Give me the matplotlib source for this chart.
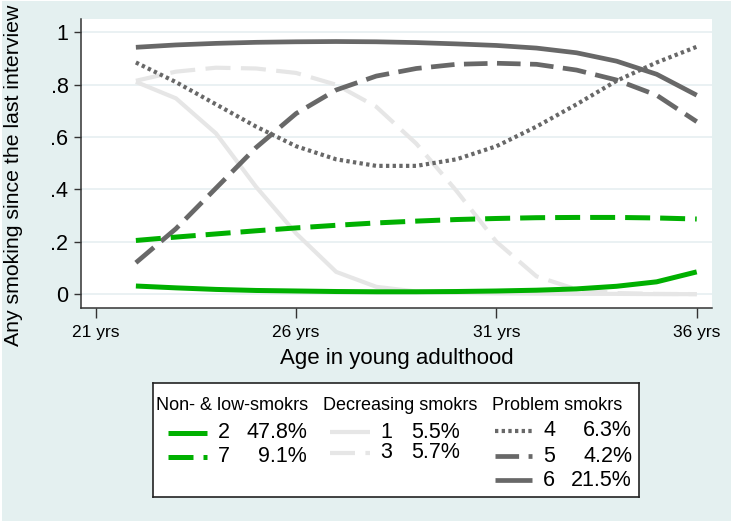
import numpy as np
import matplotlib.pyplot as plt
from matplotlib.patches import Rectangle

plt.rcParams['font.family'] = ['Liberation Sans', 'DejaVu Sans']

# 年龄（岁）
ages = [22, 23, 24, 25, 26, 27, 28, 29, 30, 31, 32, 33, 34, 35, 36]

# 各轨迹组的吸烟概率
grp2 = [0.031, 0.024, 0.018, 0.014, 0.012, 0.010, 0.009, 0.009, 0.010, 0.012, 0.015, 0.020, 0.030, 0.047, 0.085]
grp7 = [0.205, 0.218, 0.230, 0.242, 0.253, 0.263, 0.272, 0.279, 0.285, 0.289, 0.292, 0.293, 0.293, 0.291, 0.287]
grp1 = [0.811, 0.748, 0.614, 0.410, 0.232, 0.085, 0.028, 0.010, 0.005, 0.003, 0.002, 0.001, 0.001, 0.000, 0.000]
grp3 = [0.815, 0.850, 0.865, 0.862, 0.845, 0.800, 0.716, 0.575, 0.395, 0.200, 0.068, 0.018, 0.004, 0.001, 0.000]
grp4 = [0.885, 0.810, 0.725, 0.640, 0.565, 0.515, 0.490, 0.490, 0.515, 0.565, 0.640, 0.725, 0.815, 0.885, 0.945]
grp5 = [0.120, 0.250, 0.405, 0.560, 0.690, 0.780, 0.833, 0.862, 0.878, 0.882, 0.878, 0.856, 0.818, 0.760, 0.659]
grp6 = [0.943, 0.952, 0.958, 0.962, 0.964, 0.965, 0.964, 0.961, 0.956, 0.950, 0.940, 0.922, 0.890, 0.840, 0.760]

x_ticks = [21, 26, 31, 36]
x_labels = ['21 yrs', '26 yrs', '31 yrs', '36 yrs']
y_ticks = [0, 0.2, 0.4, 0.6, 0.8, 1]
y_labels = ['0', '.2', '.4', '.6', '.8', '1']

col_titles = ['Non- & low-smokrs', 'Decreasing smokrs', 'Problem smokrs']
col_ids = [['2', '7'], ['1', '3'], ['4', '5', '6']]
col_pcts = [['47.8%', '9.1%'], ['5.5%', '5.7%'], ['6.3%', '4.2%', '21.5%']]

# 颜色和线型
green = '#00b000'
dark = '#686868'
light = '#e6e6e6'
styles = {
    '2': dict(color=green, lw=3.6, ls='-'),
    '7': dict(color=green, lw=3.6, ls=(0, (5, 2))),
    '1': dict(color=light, lw=3.0, ls='-'),
    '3': dict(color=light, lw=3.0, ls=(0, (6, 2.5))),
    '4': dict(color=dark, lw=3.0, ls=(0, (0.8, 0.8))),
    '5': dict(color=dark, lw=3.4, ls=(0, (5, 2))),
    '6': dict(color=dark, lw=3.4, ls='-'),
}
series = {'1': grp1, '3': grp3, '4': grp4, '5': grp5, '6': grp6, '7': grp7, '2': grp2}

fig = plt.figure(figsize=(7.33, 5.24), dpi=100)
fig.patch.set_facecolor('white')
fig.patches.append(Rectangle((0.003, 0.006), 0.994, 0.992, transform=fig.transFigure,
                             facecolor='#e4f0f0', edgecolor='none', zorder=-10))

ax = fig.add_axes([0.1105, 0.4122, 0.8605, 0.5515])
ax.set_facecolor('white')

for k, v in series.items():
    st = styles[k]
    ax.plot(ages, v, color=st['color'], linewidth=st['lw'], linestyle=st['ls'],
            solid_capstyle='butt', dash_capstyle='butt')

ax.set_xlim(20.63, 36.375)
ax.set_ylim(-0.053, 1.051)
ax.set_xticks(x_ticks)
ax.set_xticklabels(x_labels, fontsize=12.5)
ax.set_yticks(y_ticks)
ax.set_yticklabels(y_labels, fontsize=15.5)
ax.tick_params(axis='x', length=7, width=1, color='#333333', pad=5)
ax.tick_params(axis='y', length=5, width=1, color='#333333', pad=4)
ax.grid(axis='y', color='#e8f0f2', linewidth=1.3)
ax.set_axisbelow(True)
for s in ['top', 'right']:
    ax.spines[s].set_visible(False)
for s in ['left', 'bottom']:
    ax.spines[s].set_color('#333333')
    ax.spines[s].set_linewidth(1.1)

ax.set_xlabel('Age in young adulthood', fontsize=16, labelpad=6)
fig.text(0.019, 0.665, 'Any smoking since the last interview', rotation=90,
         ha='center', va='center', fontsize=15.3)

# 图例
lax = fig.add_axes([153 / 733, 1 - 497 / 524, (639 - 153) / 733, (497 - 383) / 524])
lax.set_xlim(0, 486)
lax.set_ylim(114, 0)
lax.set_xticks([])
lax.set_yticks([])
for s in lax.spines.values():
    s.set_color('#222222')
    s.set_linewidth(1.2)

col_x = [3, 170, 339]
line_span = [(12, 51), (7, 47), (3, 40)]
id_off = [62, 57, 51]
pct_off = [151, 137, 140]
row_y = [[50, 74], [49, 70], [48, 73, 97]]
for c, title in enumerate(col_titles):
    x0 = col_x[c]
    lax.text(x0, 27, title, fontsize=13, ha='left', va='baseline')
    for r, gid in enumerate(col_ids[c]):
        st = styles[gid]
        yy = row_y[c][r]
        lax.plot([x0 + line_span[c][0], x0 + line_span[c][1]], [yy, yy], color=st['color'],
                 linewidth=st['lw'], linestyle=st['ls'], solid_capstyle='butt', dash_capstyle='butt')
        lax.text(x0 + id_off[c], yy, gid, fontsize=15.5, ha='left', va='center')
        lax.text(x0 + pct_off[c], yy, col_pcts[c][r], fontsize=15.5, ha='right', va='center')

fig.savefig('out.png', dpi=100, facecolor=fig.get_facecolor())
